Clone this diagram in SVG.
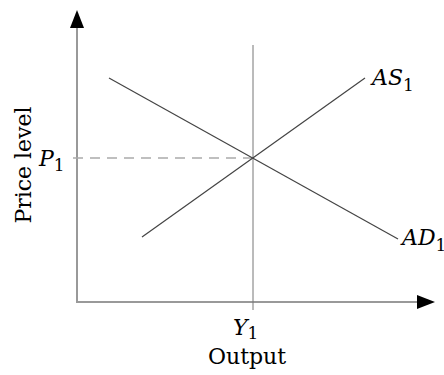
<svg xmlns="http://www.w3.org/2000/svg" width="444" height="375" viewBox="0 0 444 375">
<style>
.lbl{font-family:"DejaVu Serif","Liberation Serif",serif;font-size:22px;fill:#000}
.it{font-style:italic}
.sub{font-size:17px}
.axis{stroke:#999;stroke-width:2;fill:none}
.curve{stroke:#444;stroke-width:1.2;fill:none}
</style>
<rect width="444" height="375" fill="#fff"/>
<g id="connectors">
<line class="axis" x1="77" y1="24" x2="77" y2="302"/>
<line class="axis" x1="76" y1="302" x2="420" y2="302"/>
<polygon points="77,10 70,28 84,28" fill="#000"/>
<polygon points="435,302 417,295 417,309" fill="#000"/>
<line x1="253" y1="45" x2="253" y2="310" stroke="#777" stroke-width="1"/>
<line x1="73" y1="158" x2="253" y2="158" stroke="#aaa" stroke-width="1.5" stroke-dasharray="10,7"/>
</g>
<g id="AD"><line class="curve" x1="109" y1="78" x2="398" y2="239"/></g>
<g id="AS"><line class="curve" x1="142" y1="237" x2="365" y2="78"/></g>
<g id="labels">
<text class="lbl" transform="translate(31,165) rotate(-90)" text-anchor="middle">Price level</text>
<text class="lbl" x="39" y="166"><tspan class="it">P</tspan><tspan class="sub" dy="5">1</tspan></text>
<text class="lbl" x="372" y="85"><tspan class="it">AS</tspan><tspan class="sub" dy="6">1</tspan></text>
<text class="lbl" x="402" y="245"><tspan class="it">AD</tspan><tspan class="sub" dy="6">1</tspan></text>
<text class="lbl" x="233" y="335"><tspan class="it">Y</tspan><tspan class="sub" dy="4">1</tspan></text>
<text class="lbl" x="247" y="364" text-anchor="middle">Output</text>
</g>
</svg>
